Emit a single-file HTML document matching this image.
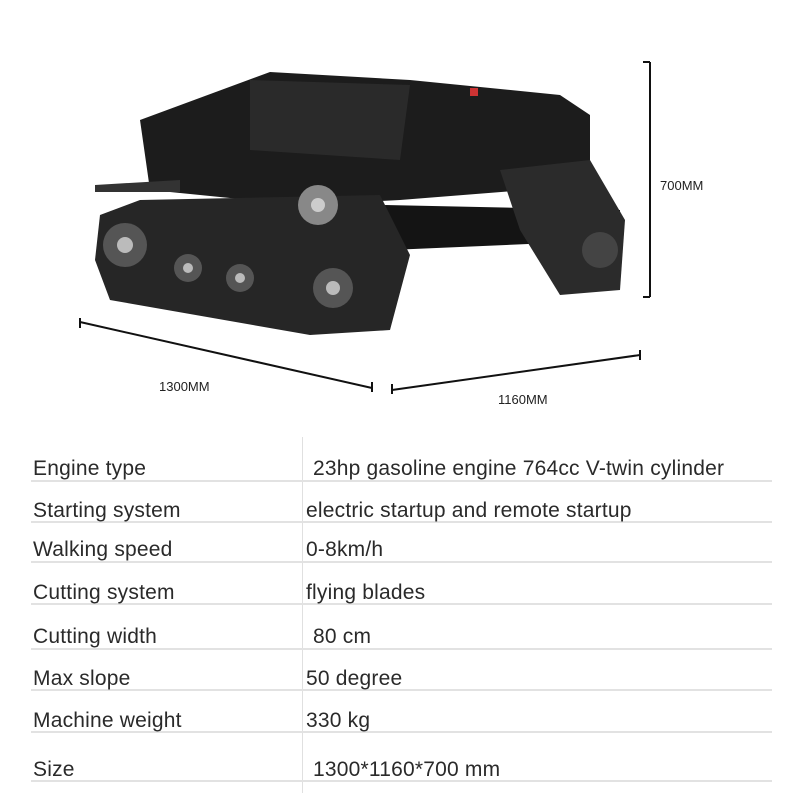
<!DOCTYPE html>
<html><head><style>
body{margin:0;width:800px;height:793px;background:#fff;position:relative;overflow:hidden;font-family:"Liberation Sans",sans-serif}
.t{position:absolute;font-size:21px;letter-spacing:0.2px;color:#2a2a2a;white-space:nowrap}
.l{position:absolute;left:31px;width:741px;height:2px;background:#e2e2e2}
.d{position:absolute;font-size:13px;color:#222}
</style></head><body>
<svg width="800" height="430" style="position:absolute;left:0;top:0">
 <g stroke="#111" stroke-width="2" fill="none">
  <line x1="650" y1="62" x2="650" y2="297"/><line x1="643" y1="62" x2="650" y2="62"/><line x1="643" y1="297" x2="650" y2="297"/>
  <line x1="80" y1="322" x2="372" y2="388"/><line x1="80" y1="318" x2="80" y2="328"/><line x1="372" y1="382" x2="372" y2="392"/>
  <line x1="392" y1="390" x2="640" y2="355"/><line x1="392" y1="384" x2="392" y2="394"/><line x1="640" y1="350" x2="640" y2="360"/>
 </g>
 <path d="M140,120 L270,72 L410,80 L560,95 L590,115 L590,185 L400,200 L300,205 L150,190 Z" fill="#1c1c1c"/>
 <path d="M250,80 L410,85 L400,160 L250,150 Z" fill="#2a2a2a"/>
 <path d="M385,205 L620,210 L620,240 L390,250 Z" fill="#141414"/>
 <path d="M500,170 L590,160 L625,220 L620,290 L560,295 L520,230 Z" fill="#2b2b2b"/>
 <path d="M100,215 L140,200 L380,195 L410,255 L390,330 L310,335 L110,300 L95,260 Z" fill="#262626"/>
 <path d="M95,185 L180,180 L180,192 L95,192 Z" fill="#333"/>
 <circle cx="125" cy="245" r="22" fill="#555"/><circle cx="125" cy="245" r="8" fill="#bbb"/>
 <circle cx="188" cy="268" r="14" fill="#555"/><circle cx="188" cy="268" r="5" fill="#bbb"/>
 <circle cx="240" cy="278" r="14" fill="#555"/><circle cx="240" cy="278" r="5" fill="#bbb"/>
 <circle cx="333" cy="288" r="20" fill="#555"/><circle cx="333" cy="288" r="7" fill="#bbb"/>
 <circle cx="318" cy="205" r="20" fill="#888"/><circle cx="318" cy="205" r="7" fill="#ccc"/>
 <circle cx="600" cy="250" r="18" fill="#444"/>
 <rect x="470" y="88" width="8" height="8" fill="#c33"/>
</svg>
<div class="d" style="left:660px;top:178px">700MM</div>
<div class="d" style="left:159px;top:379px">1300MM</div>
<div class="d" style="left:498px;top:392px">1160MM</div>
<div style="position:absolute;left:302px;top:437px;width:1px;height:356px;background:#e0e0e0"></div>
<div class="l" style="top:480px"></div><div class="l" style="top:521px"></div><div class="l" style="top:561px"></div><div class="l" style="top:603px"></div><div class="l" style="top:648px"></div><div class="l" style="top:689px"></div><div class="l" style="top:731px"></div><div class="l" style="top:780px"></div>
<div class="t" style="left:33px;top:457px">Engine type</div><div class="t" style="left:313px;top:457px">23hp gasoline engine 764cc V-twin cylinder</div>
<div class="t" style="left:33px;top:499px">Starting system</div><div class="t" style="left:306px;top:499px">electric startup and remote startup</div>
<div class="t" style="left:33px;top:538px">Walking speed</div><div class="t" style="left:306px;top:538px">0-8km/h</div>
<div class="t" style="left:33px;top:581px">Cutting system</div><div class="t" style="left:306px;top:581px">flying blades</div>
<div class="t" style="left:33px;top:625px">Cutting width</div><div class="t" style="left:313px;top:625px">80 cm</div>
<div class="t" style="left:33px;top:667px">Max slope</div><div class="t" style="left:306px;top:667px">50 degree</div>
<div class="t" style="left:33px;top:709px">Machine weight</div><div class="t" style="left:306px;top:709px">330 kg</div>
<div class="t" style="left:33px;top:758px">Size</div><div class="t" style="left:313px;top:758px">1300*1160*700 mm</div>
</body></html>
